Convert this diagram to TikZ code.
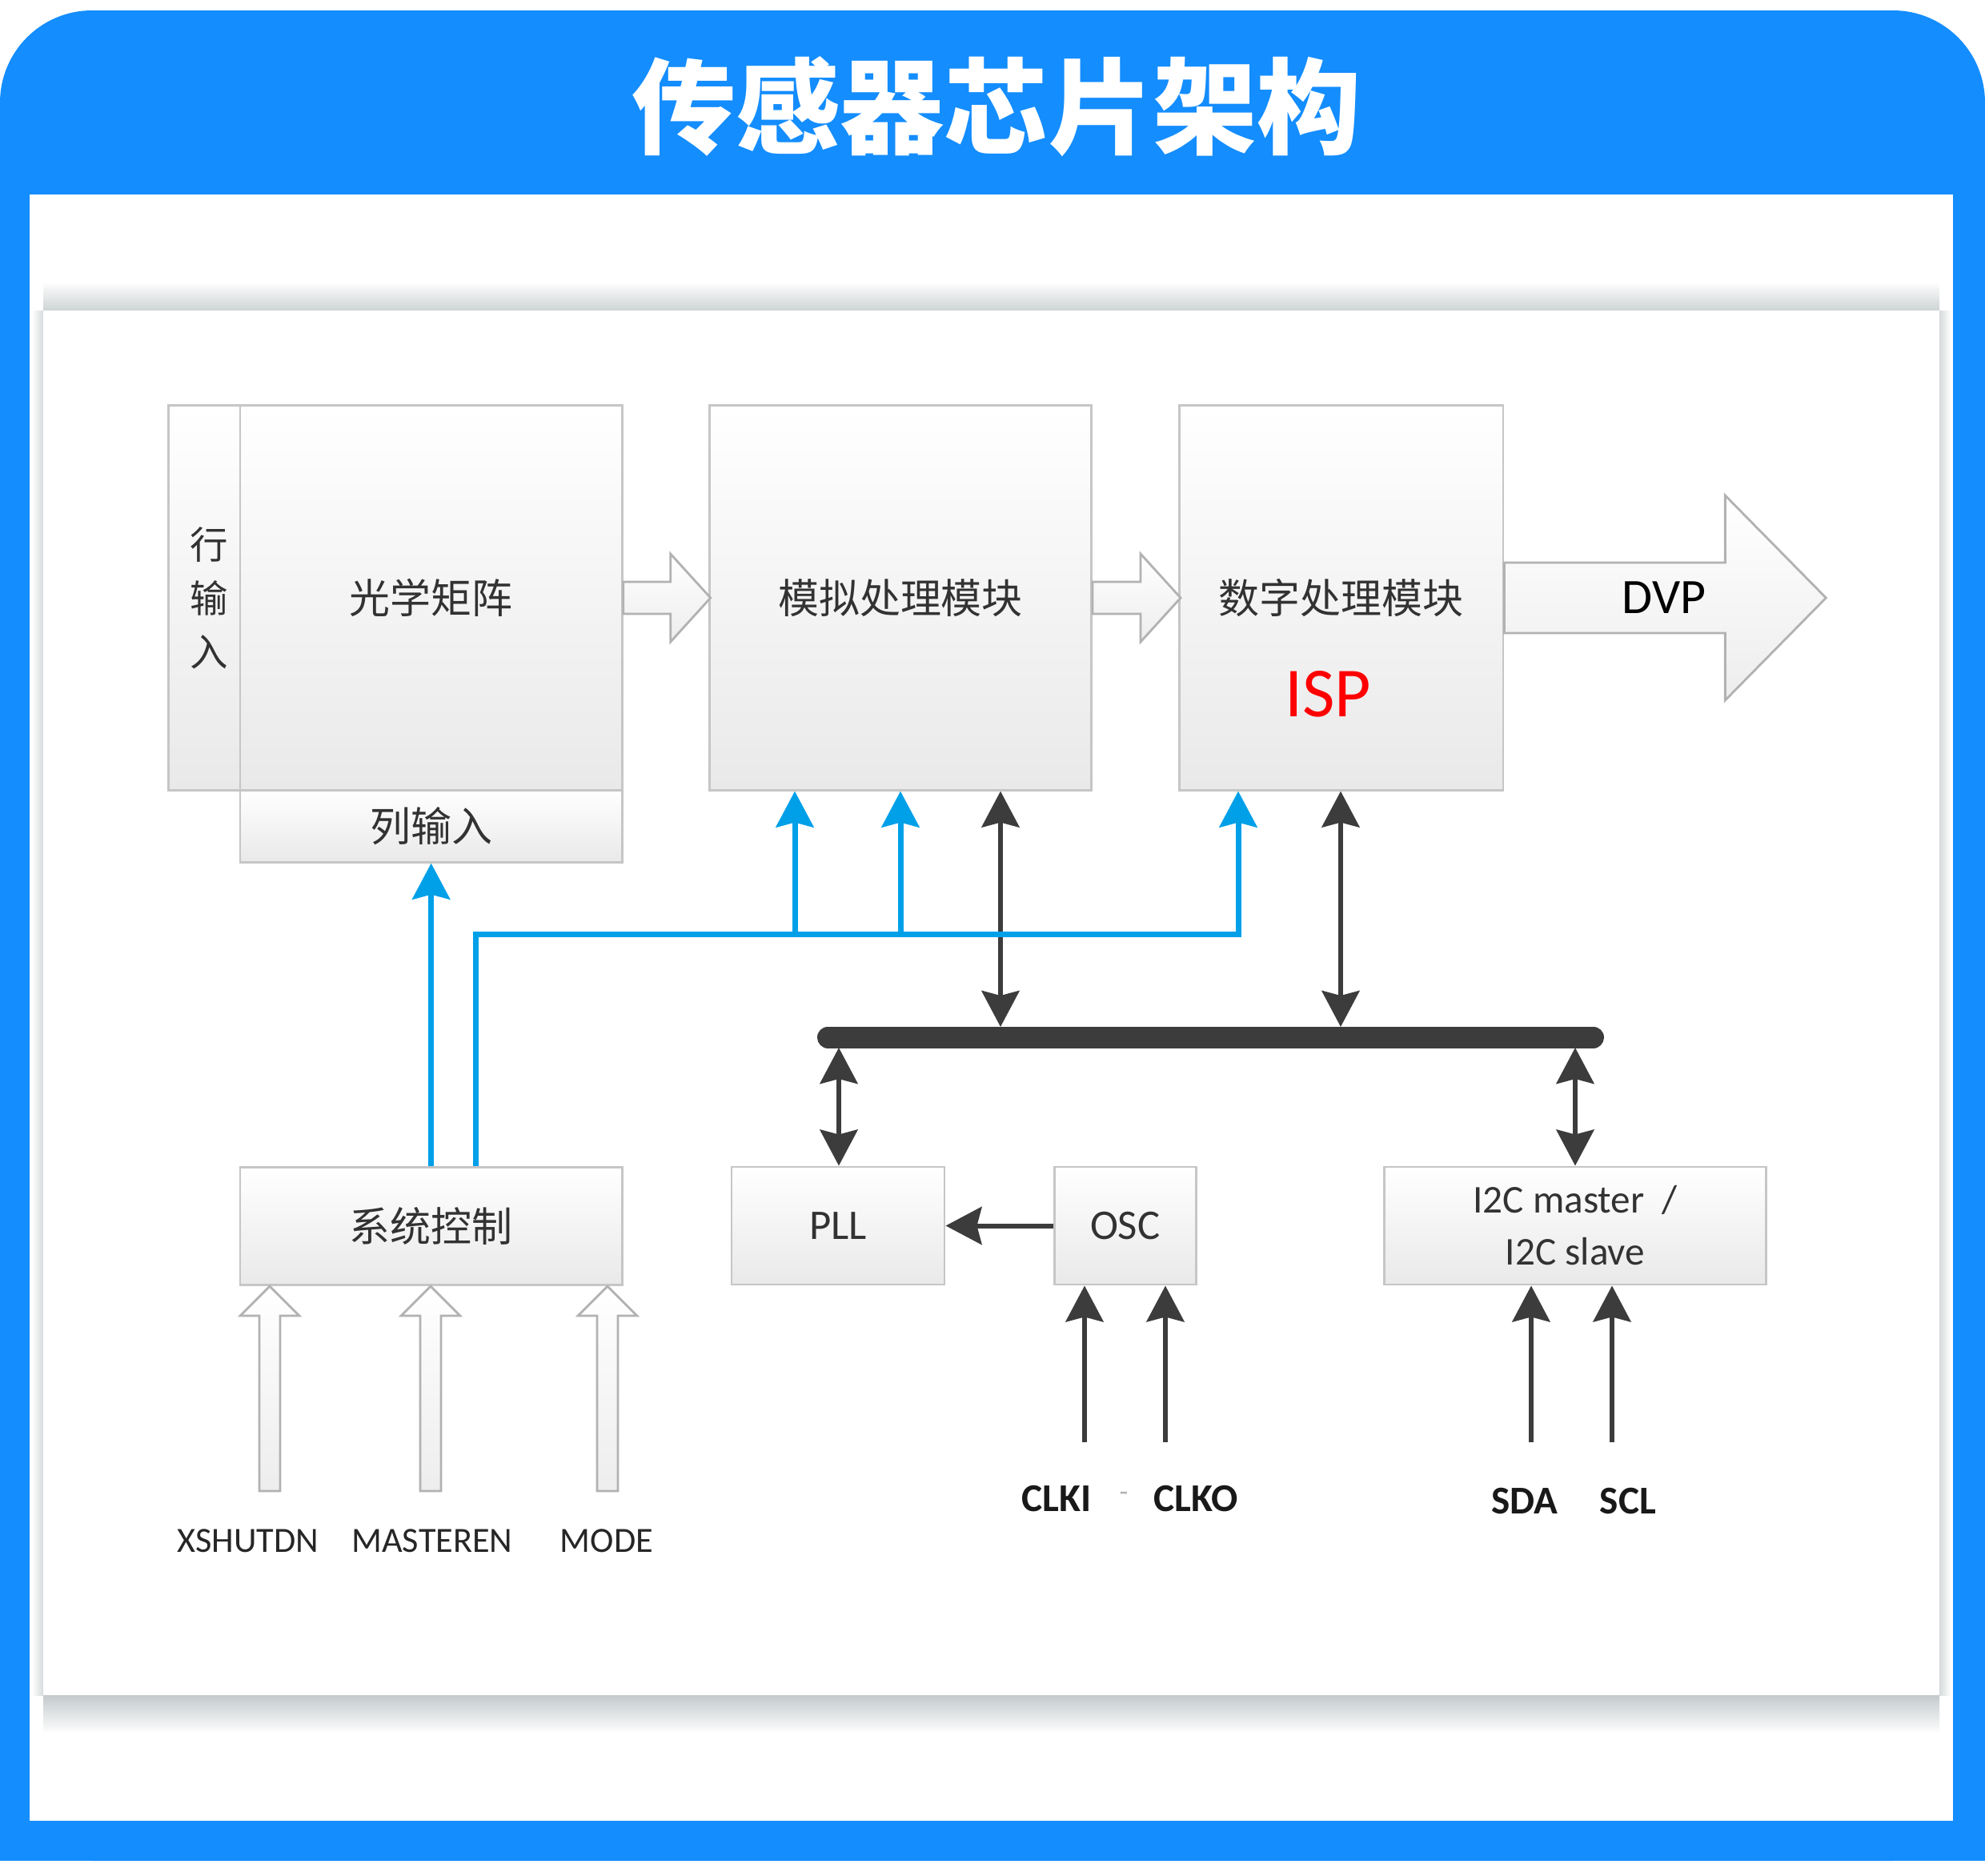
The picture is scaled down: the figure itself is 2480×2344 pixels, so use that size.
\documentclass[tikz,border=0pt]{standalone}
\usepackage{fontspec}
\setmainfont{Carlito}
\newfontfamily\cjk{Noto Sans CJK SC}
\usetikzlibrary{positioning}
\usetikzlibrary{arrows.meta}
\definecolor{frameblue}{RGB}{20,141,254}
\definecolor{sigblue}{RGB}{0,160,233}
\definecolor{darkline}{RGB}{60,60,60}
\definecolor{boxline}{RGB}{198,198,198}
\definecolor{boxfill}{RGB}{233,233,233}
\definecolor{shadowgrey}{RGB}{196,203,205}
\definecolor{labelgrey}{RGB}{50,50,50}

\tikzset{
  block/.style={draw=boxline, line width=0.8pt, top color=white, bottom color=boxfill,
    text=labelgrey, inner sep=0pt},
  cjklabel/.style={font=\cjk\fontsize{14.5}{17}\selectfont},
  latlabel/.style={font=\fontsize{15}{18}\selectfont},
  pinlabel/.style={font=\bfseries\fontsize{14}{16}\selectfont, text=black!90},
  modelabel/.style={font=\fontsize{12.6}{15}\selectfont, text=black!85},
  dark/.style={draw=darkline, line width=0.6mm},
  sig/.style={draw=sigblue, line width=0.7mm},
  bus/.style={draw=darkline, line width=2.7mm, line cap=round},
  hollowfill/.style={draw=gray!60, line width=0.8pt, top color=white, bottom color=gray!14},
  pics/hollow/.style args={#1/#2/#3/#4}{code={
    \path[hollowfill] (0,-#2) -- (#1-#4,-#2) -- (#1-#4,-#3) -- (#1,0)
      -- (#1-#4,#3) -- (#1-#4,#2) -- (0,#2) -- cycle;
  }},
}

\begin{document}
\begin{tikzpicture}[x=0.01cm, y=-0.01cm, on grid,
    >={Stealth[length=4.5mm, width=4.7mm, inset=0.6mm]}]
   \useasboundingbox (0,0) rectangle (2480,2344);
   \fill[white] (0,0) rectangle (2480,2344);
   % frame and card
   \fill[frameblue, rounded corners=1.15cm] (0,13) rectangle (2480,2325);
   \fill[frameblue] (0,1000) rectangle (2480,2325);
   \fill[white] (37,243) rectangle (2440,2275);
   \shade[top color=white, bottom color=shadowgrey!85] (54,352) rectangle (2423,388);
   \shade[top color=shadowgrey, bottom color=white] (54,2118) rectangle (2423,2166);
   \shade[left color=white, right color=shadowgrey!70] (40,388) rectangle (54,2118);
   \shade[left color=shadowgrey!70, right color=white] (2423,388) rectangle (2437,2118);
   \fill[white] (54,388) rectangle (2423,2118);
   \node[text=white, font=\cjk\bfseries\fontsize{37}{40}\selectfont] (title) at (1245,133) {传感器芯片架构};

   % blocks
   \node[block, minimum width=0.91cm, minimum height=4.8cm, align=center,
     font=\cjk\fontsize{13.5}{19}\selectfont] (rowin) at (256,747) {\hspace{0.1cm}行\\\hspace{0.1cm}输\\\hspace{0.1cm}入};
   \node[block, minimum width=4.77cm, minimum height=4.8cm, cjklabel] (opt) [right=2.825cm of rowin] {光学矩阵};
   \node[block, minimum width=4.77cm, minimum height=0.9cm, cjklabel] (colin) [below=2.85cm of opt] {列输入};
   \node[block, minimum width=4.77cm, minimum height=4.8cm, cjklabel] (ana) [right=5.86cm of opt] {模拟处理模块};
   \node[block, minimum width=4.04cm, minimum height=4.8cm, cjklabel] (dig) [right=5.505cm of ana] {数字处理模块};
   \node[text=red, font=\fontsize{25}{28}\selectfont] (isp) at (1659,867) {ISP};
   \node[block, minimum width=4.77cm, minimum height=1.47cm, cjklabel] (sys) [below=7.845cm of opt] {系统控制};
   \node[block, minimum width=2.66cm, minimum height=1.47cm, latlabel] (pll) at (1047,1531.5) {PLL};
   \node[block, minimum width=1.77cm, minimum height=1.47cm, latlabel] (osc) [right=3.585cm of pll] {OSC};
   \node[block, minimum width=4.76cm, minimum height=1.47cm, align=center,
     font=\fontsize{14}{18.5}\selectfont] (i2c) at (1968,1531.5) {I2C master\ \ /\\I2C slave};

   % hollow data arrows
   \pic at (opt.east) {hollow=109/20/55/50};
   \pic at (ana.east) {hollow=110/20/55/50};
   \pic at (dig.east) {hollow=402/44/128/126};
   \node[font=\fontsize{17.6}{20}\selectfont, text=black] (dvp) at (2079,747) {DVP};

   % mode inputs
   \coordinate (xs) at (337,1863);
   \coordinate (ms) at (538,1863);
   \coordinate (md) at (759,1863);
   \foreach \c in {xs,ms,md}
     \pic[rotate=90] at (\c) {hollow=256/13/37/37};
   \node[modelabel] (xslbl) at (310,1925) {XSHUTDN};
   \node[modelabel] (mslbl) at (540,1925) {MASTEREN};
   \node[modelabel] (mdlbl) at (758,1925) {MODE};

   % bus
   \coordinate (busL) at (1034.5,1296);
   \coordinate (busR) at (1990.5,1296);
   \coordinate (tapA) at (1250,1283);
   \coordinate (tapD) at (1675,1283);
   \coordinate (tapP) at (1048,1309);
   \coordinate (tapI) at (1968,1309);
   \draw[dark, <->] (tapA |- ana.south) -- (tapA);
   \draw[dark, <->] (tapD |- dig.south) -- (tapD);
   \draw[dark, <->] (tapP) -- (tapP |- pll.north);
   \draw[dark, <->] (tapI) -- (tapI |- i2c.north);
   \draw[bus] (busL) -- (busR);
   \draw[dark, ->] (osc.west) -- (pll.east);

   % clock and i2c pins
   \coordinate (clki) at (1355,1802);
   \coordinate (clko) at (1456,1802);
   \coordinate (sda) at (1913,1802);
   \coordinate (scl) at (2014,1802);
   \foreach \c/\b in {clki/osc,clko/osc,sda/i2c,scl/i2c}
     \draw[dark, ->] (\c) -- (\c |- \b.south);
   \node[pinlabel] (clkilbl) at (1320,1872) {CLKI};
   \node[text=gray!60, font=\fontsize{10}{12}\selectfont] (dash) at (1404,1870) {-};
   \node[pinlabel] (clkolbl) at (1494,1872) {CLKO};
   \node[pinlabel] (sdalbl) at (1905,1875) {SDA};
   \node[pinlabel] (scllbl) at (2034,1875) {SCL};

   % control lines
   \coordinate (ctl) at (594,1167);
   \coordinate (bj1) at (993,1167);
   \coordinate (bj2) at (1125,1167);
   \coordinate (bj3) at (1547,1167);
   \draw[sig, ->] (sys.north) -- (colin.south);
   \draw[sig, ->] (ctl |- sys.north) -- (ctl) -- (bj3) -- (bj3 |- dig.south);
   \draw[sig, ->] (bj1) -- (bj1 |- ana.south);
   \draw[sig, ->] (bj2) -- (bj2 |- ana.south);
\end{tikzpicture}
\end{document}
